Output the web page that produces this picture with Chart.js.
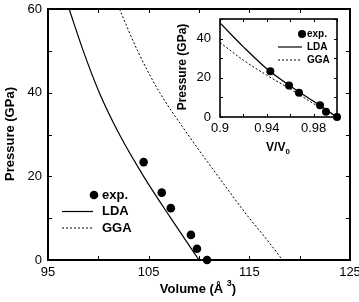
<!DOCTYPE html>
<html>
<head>
<meta charset="utf-8">
<title>Pressure vs volume</title>
<script src="https://cdn.jsdelivr.net/npm/chart.js@4.4.0/dist/chart.umd.min.js"></script>
<style>
  body { margin: 0; background: #fff; }
  #wrap { position: relative; width: 359px; height: 302px; }
  #main { position: absolute; left: 0; top: 0; }
  #inset { position: absolute; left: 175px; top: 8px; }
</style>
</head>
<body>
<div id="wrap">
  <canvas id="main" width="359" height="302"></canvas>
  <canvas id="inset" width="175" height="152"></canvas>
</div>
<script>
// main panel: pressure vs volume
const expVolume = [104.5, 106.3, 107.2, 109.2, 109.8, 110.8];
const expPressure = [23.4, 16.1, 12.4, 6.0, 2.7, 0];
const ldaVolume = [97.1, 98.5, 100.1, 102.1, 104.5, 107.2, 108.6, 110.0];
const ldaPressure = [60, 50, 40, 30, 20, 10, 5, 0];
const ggaVolume = [102.1, 103.9, 106.1, 108.9, 111.9, 115.0, 116.7, 118.3];
const ggaPressure = [60, 50, 40, 30, 20, 10, 5, 0];
const volumeTicks = [95, 105, 115, 125];
const pressureTicks = [0, 20, 40, 60];

// inset: pressure vs V/V0
const insetExpRatio = [0.943, 0.959, 0.9675, 0.9855, 0.9906, 1.0];
const insetExpPressure = [23.4, 16.1, 12.4, 6.0, 2.7, 0];
const insetLdaRatio = [0.9, 0.92, 0.94, 0.96, 0.98, 1.0];
const insetLdaPressure = [48, 35.8, 24.6, 15.8, 8.0, 0];
const insetGgaRatio = [0.9, 0.92, 0.94, 0.96, 0.98, 1.0];
const insetGgaPressure = [38, 29, 21.3, 14.3, 6.8, 0];
const ratioTicks = [0.9, 0.94, 0.98];
const insetPressureTicks = [0, 20, 40];

const FONT = '"Liberation Sans", Arial, Helvetica, sans-serif';
Chart.defaults.font.family = FONT;
Chart.defaults.color = '#000';

function pts(xs, ys) {
  return xs.map((x, i) => ({ x: x, y: ys[i] }));
}

function sets(ex, ey, lx, ly, gx, gy, r) {
  return [
    { label: 'exp.', data: pts(ex, ey), showLine: false, pointRadius: r, clip: false,
      pointBackgroundColor: '#000', pointBorderWidth: 0 },
    { label: 'LDA', data: pts(lx, ly), showLine: true, pointRadius: 0,
      borderColor: '#000', borderWidth: 1.2, cubicInterpolationMode: 'monotone' },
    { label: 'GGA', data: pts(gx, gy), showLine: true, pointRadius: 0,
      borderColor: '#000', borderWidth: 1, borderDash: [2, 2], cubicInterpolationMode: 'monotone' }
  ];
}

// text with an optional raised / lowered small part
function drawRun(ctx, parts, cx, cy, size) {
  const f = k => 'bold ' + (k ? Math.round(size * 0.7) : size) + 'px ' + FONT;
  let total = 0;
  parts.forEach(p => { ctx.font = f(p[1]); total += ctx.measureText(p[0]).width; });
  let x = cx - total / 2;
  ctx.textAlign = 'left';
  ctx.textBaseline = 'middle';
  parts.forEach(p => {
    ctx.font = f(p[1]);
    const dy = p[1] === 'sup' ? -size * 0.45 : p[1] === 'sub' ? size * 0.35 : 0;
    ctx.fillText(p[0], x, cy + dy);
    x += ctx.measureText(p[0]).width;
  });
}

const decor = {
  id: 'decor',
  beforeDatasetsDraw(chart, args, o) {
    const { ctx, chartArea: a, scales } = chart;
    ctx.save();
    ctx.strokeStyle = '#000';
    // inward ticks on all four sides
    ctx.lineWidth = 1;
    ctx.beginPath();
    scales.x.ticks.forEach(t => {
      const px = Math.round(scales.x.getPixelForValue(t.value)) + 0.5;
      ctx.moveTo(px, a.bottom); ctx.lineTo(px, a.bottom - o.tick);
      ctx.moveTo(px, a.top); ctx.lineTo(px, a.top + o.tick);
    });
    scales.y.ticks.forEach(t => {
      const py = Math.round(scales.y.getPixelForValue(t.value)) + 0.5;
      ctx.moveTo(a.left, py); ctx.lineTo(a.left + o.tick, py);
      ctx.moveTo(a.right, py); ctx.lineTo(a.right - o.tick, py);
    });
    ctx.stroke();
    ctx.lineWidth = o.frame;
    ctx.strokeRect(a.left, a.top, a.right - a.left, a.bottom - a.top);
    ctx.restore();
  },
  afterDatasetsDraw(chart, args, o) {
    const ctx = chart.ctx;
    ctx.save();
    ctx.strokeStyle = '#000';
    ctx.fillStyle = '#000';

    // legend
    const L = o.legend;
    ctx.font = 'bold ' + L.size + 'px ' + FONT;
    ctx.textAlign = 'left';
    ctx.textBaseline = 'middle';
    chart.data.datasets.forEach((ds, i) => {
      const y = L.y + i * L.row;
      if (ds.showLine) {
        ctx.lineWidth = ds.borderWidth;
        ctx.setLineDash(ds.borderDash || []);
        ctx.beginPath();
        ctx.moveTo(L.x0, y); ctx.lineTo(L.x1, y);
        ctx.stroke();
        ctx.setLineDash([]);
      } else {
        ctx.beginPath();
        ctx.arc(L.dot, y, ds.pointRadius, 0, Math.PI * 2);
        ctx.fill();
      }
      ctx.fillText(ds.label, L.tx, y);
    });

    // axis titles
    drawRun(ctx, o.xTitle, o.xPos[0], o.xPos[1], o.titleSize);
    ctx.translate(o.yPos[0], o.yPos[1]);
    ctx.rotate(-Math.PI / 2);
    drawRun(ctx, o.yTitle, 0, 0, o.titleSize);
    ctx.restore();
  }
};

function fixBox(w, h) {
  return function (s) {
    if (w !== null) s.width = w;
    if (h !== null) s.height = h;
    s.paddingLeft = 0; s.paddingRight = 0; s.paddingTop = 0; s.paddingBottom = 0;
  };
}

function labelIf(list) {
  return v => list.some(t => Math.abs(t - v) < 1e-6) ? String(+(+v).toFixed(2)) : '';
}

new Chart(document.getElementById('main'), {
  type: 'scatter',
  data: { datasets: sets(expVolume, expPressure, ldaVolume, ldaPressure, ggaVolume, ggaPressure, 4.3) },
  plugins: [decor],
  options: {
    responsive: false,
    animation: false,
    devicePixelRatio: 1,
    layout: { padding: { left: 0, top: 9, right: 9, bottom: 0 } },
    scales: {
      x: {
        type: 'linear', min: 95, max: 125,
        grid: { display: false, drawTicks: false }, border: { display: false },
        ticks: { stepSize: 5, padding: 5, maxRotation: 0, autoSkip: false,
          font: { size: 13 }, callback: labelIf(volumeTicks) },
        afterFit: fixBox(null, 42)
      },
      y: {
        type: 'linear', min: 0, max: 60,
        grid: { display: false, drawTicks: false }, border: { display: false },
        ticks: { stepSize: 10, padding: 6, autoSkip: false,
          font: { size: 13 }, callback: labelIf(pressureTicks) },
        afterFit: fixBox(48, null)
      }
    },
    plugins: {
      legend: { display: false },
      tooltip: { enabled: false },
      decor: {
        tick: 4, frame: 2, titleSize: 13,
        xTitle: [['Volume (Å ', ''], ['3', 'sup'], [')', '']], xPos: [198, 289],
        yTitle: [['Pressure (GPa)', '']], yPos: [10, 134],
        legend: { size: 13, y: 195, row: 16.5, x0: 62, x1: 93, dot: 94, tx: 102 }
      }
    }
  }
});

new Chart(document.getElementById('inset'), {
  type: 'scatter',
  data: { datasets: sets(insetExpRatio, insetExpPressure, insetLdaRatio, insetLdaPressure, insetGgaRatio, insetGgaPressure, 4) },
  plugins: [decor],
  options: {
    responsive: false,
    animation: false,
    devicePixelRatio: 1,
    layout: { padding: { left: 0, top: 11, right: 13, bottom: 0 } },
    scales: {
      x: {
        type: 'linear', min: 0.9, max: 1.0,
        grid: { display: false, drawTicks: false }, border: { display: false },
        ticks: { stepSize: 0.02, padding: 4, maxRotation: 0, autoSkip: false,
          font: { size: 13 }, callback: labelIf(ratioTicks) },
        afterFit: fixBox(null, 43)
      },
      y: {
        type: 'linear', min: 0, max: 50,
        grid: { display: false, drawTicks: false }, border: { display: false },
        ticks: { stepSize: 10, padding: 9, autoSkip: false,
          font: { size: 13 }, callback: labelIf(insetPressureTicks) },
        afterFit: fixBox(45, null)
      }
    },
    plugins: {
      legend: { display: false },
      tooltip: { enabled: false },
      decor: {
        tick: 3, frame: 1.6, titleSize: 12,
        xTitle: [['V/V', ''], ['0', 'sub']], xPos: [103, 140],
        yTitle: [['Pressure (GPa)', '']], yPos: [8, 59],
        legend: { size: 10, y: 26, row: 13, x0: 103, x1: 127, dot: 127, tx: 132 }
      }
    }
  }
});
</script>
</body>
</html>
